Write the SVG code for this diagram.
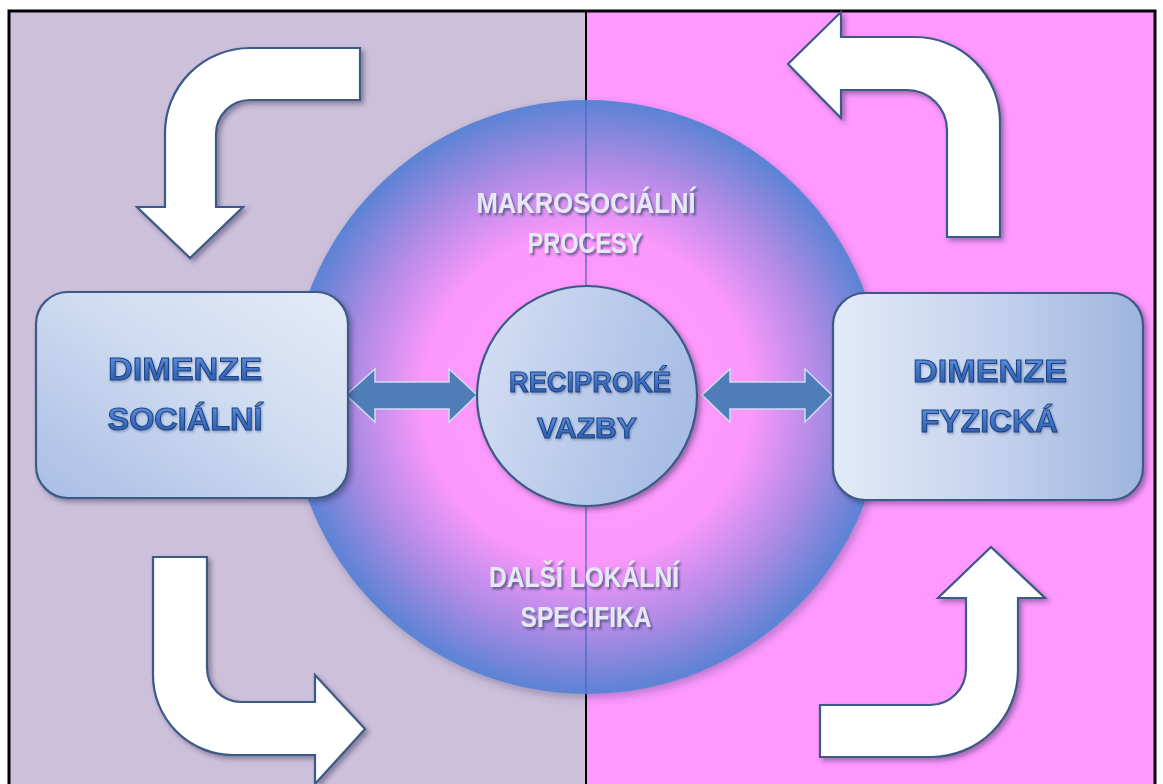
<svg xmlns="http://www.w3.org/2000/svg" width="1163" height="784" viewBox="0 0 1163 784">
<defs>
<style>
.arrow{fill:#ffffff;stroke:#3b5a85;stroke-width:2.2;stroke-linejoin:miter;filter:url(#shadow)}
.dbl{fill:#4e7db8;stroke:#cfdcf2;stroke-width:1.5}
.box{stroke:#3b5a85;stroke-width:2.2;filter:url(#shadow)}
.btxt{font-family:"Liberation Sans",Arial,sans-serif;font-weight:bold;font-size:32px;fill:url(#txtGrad);stroke:#1d4383;stroke-width:1;text-anchor:middle;filter:url(#bshadow)}
.ctxt{font-family:"Liberation Sans",Arial,sans-serif;font-weight:bold;font-size:29px;fill:url(#txtGrad);stroke:#1d4383;stroke-width:1;text-anchor:middle;filter:url(#bshadow)}
.wtxt{font-family:"Liberation Sans",Arial,sans-serif;font-weight:bold;font-size:29px;fill:#e6e9f5;text-anchor:middle;filter:url(#tshadow)}
</style>
<filter id="shadow" x="-15%" y="-15%" width="135%" height="135%">
<feDropShadow dx="3" dy="3" stdDeviation="2.5" flood-color="#2a2a55" flood-opacity="0.45"/>
</filter>
<filter id="cshadow" x="-10%" y="-10%" width="125%" height="125%">
<feDropShadow dx="3" dy="4" stdDeviation="4" flood-color="#3a3a70" flood-opacity="0.35"/>
</filter>
<filter id="tshadow" x="-10%" y="-30%" width="125%" height="170%">
<feDropShadow dx="2" dy="2.5" stdDeviation="1.3" flood-color="#4a4a7c" flood-opacity="0.75"/>
</filter>
<filter id="bshadow" x="-10%" y="-30%" width="125%" height="170%">
<feDropShadow dx="1" dy="1.5" stdDeviation="1" flood-color="#1a2f60" flood-opacity="0.35"/>
</filter>
<linearGradient id="txtGrad" x1="0" y1="0" x2="0" y2="1">
<stop offset="0" stop-color="#6f9de2"/>
<stop offset="0.5" stop-color="#3f73c6"/>
<stop offset="1" stop-color="#2a55a2"/>
</linearGradient>
<radialGradient id="bigGrad" cx="587" cy="397" r="297" gradientUnits="userSpaceOnUse">
<stop offset="0" stop-color="#ff99ff"/>
<stop offset="0.55" stop-color="#fc98fb"/>
<stop offset="0.8" stop-color="#aa8ae4"/>
<stop offset="1" stop-color="#5b83d4"/>
</radialGradient>
<linearGradient id="leftBox" x1="0" y1="1" x2="1" y2="0">
<stop offset="0" stop-color="#a9bde4"/>
<stop offset="0.55" stop-color="#cfdcf1"/>
<stop offset="1" stop-color="#e4ebf7"/>
</linearGradient>
<linearGradient id="rightBox" x1="0" y1="0" x2="1" y2="0">
<stop offset="0" stop-color="#e3eaf7"/>
<stop offset="0.5" stop-color="#c6d4ee"/>
<stop offset="1" stop-color="#9db4dd"/>
</linearGradient>
<linearGradient id="smallGrad" x1="0" y1="0" x2="1" y2="0.3">
<stop offset="0" stop-color="#d6e0f3"/>
<stop offset="1" stop-color="#a8bee5"/>
</linearGradient>
</defs>

<g id="background">
<rect x="0" y="0" width="1163" height="784" fill="#ffffff"/>
<rect x="9" y="11" width="577" height="780" fill="#cdc0da"/>
<rect x="586" y="11" width="569" height="780" fill="#ff99ff"/>
<rect x="9" y="11" width="1146" height="790" fill="none" stroke="#000000" stroke-width="3"/>
<line x1="586" y1="11" x2="586" y2="784" stroke="#000000" stroke-width="2"/>
</g>

<g id="outer-circle">
<circle cx="587" cy="397" r="297" fill="url(#bigGrad)" filter="url(#cshadow)"/>
<line x1="586" y1="100" x2="586" y2="694" stroke="#4d66c8" stroke-width="1.3"/>
<text class="wtxt" x="586" y="213" textLength="219" lengthAdjust="spacingAndGlyphs">MAKROSOCIÁLNÍ</text>
<text class="wtxt" x="585" y="253" textLength="115" lengthAdjust="spacingAndGlyphs">PROCESY</text>
<text class="wtxt" x="584" y="587" textLength="190" lengthAdjust="spacingAndGlyphs">DALŠÍ LOKÁLNÍ</text>
<text class="wtxt" x="586" y="627" textLength="131" lengthAdjust="spacingAndGlyphs">SPECIFIKA</text>
</g>

<g id="connectors">
<path class="arrow" d="M 360 48 L 250 48 A 85 85 0 0 0 165 133 L 165 207 L 137 207 L 190 258 L 243 207 L 216 207 L 216 134 A 34 34 0 0 1 250 100 L 360 100 Z"/>
<path class="arrow" d="M 1000 237 L 947 237 L 947 130 A 40 40 0 0 0 907 90 L 841 90 L 841 118 L 788 64 L 841 12 L 841 37 L 915 37 A 85 85 0 0 1 1000 122 Z"/>
<path class="arrow" d="M 153 557 L 207 557 L 207 668 A 34 34 0 0 0 241 702 L 315 702 L 315 675 L 365 729 L 315 784 L 315 755 L 233 755 A 80 80 0 0 1 153 675 Z"/>
<path class="arrow" d="M 820 705 L 930 705 A 36 36 0 0 0 966 669 L 966 598 L 938 598 L 991 547 L 1045 598 L 1018 598 L 1018 670 A 87 87 0 0 1 931 757 L 820 757 Z"/>
<polygon class="dbl" points="346,395 375,369 375,382 449,382 449,369 477,395 449,422 449,409 375,409 375,422"/>
<polygon class="dbl" points="702,395 730,369 730,382 805,382 805,369 832,395 805,422 805,409 730,409 730,422"/>
</g>

<g id="node-social">
<rect class="box" x="36" y="292" width="312" height="206" rx="32" ry="32" fill="url(#leftBox)"/>
<text class="btxt" x="185" y="380" textLength="154" lengthAdjust="spacingAndGlyphs">DIMENZE</text>
<text class="btxt" x="185" y="430" textLength="155" lengthAdjust="spacingAndGlyphs">SOCIÁLNÍ</text>
</g>

<g id="node-physical">
<rect class="box" x="833" y="293" width="310" height="207" rx="32" ry="32" fill="url(#rightBox)"/>
<text class="btxt" x="990" y="382" textLength="154" lengthAdjust="spacingAndGlyphs">DIMENZE</text>
<text class="btxt" x="989" y="432" textLength="138" lengthAdjust="spacingAndGlyphs">FYZICKÁ</text>
</g>

<g id="node-reciprocal">
<circle cx="587" cy="396" r="110" fill="url(#smallGrad)" stroke="#3b5a85" stroke-width="2.2" filter="url(#shadow)"/>
<text class="ctxt" x="590" y="392" textLength="162" lengthAdjust="spacingAndGlyphs">RECIPROKÉ</text>
<text class="ctxt" x="587" y="438" textLength="100" lengthAdjust="spacingAndGlyphs">VAZBY</text>
</g>
</svg>
